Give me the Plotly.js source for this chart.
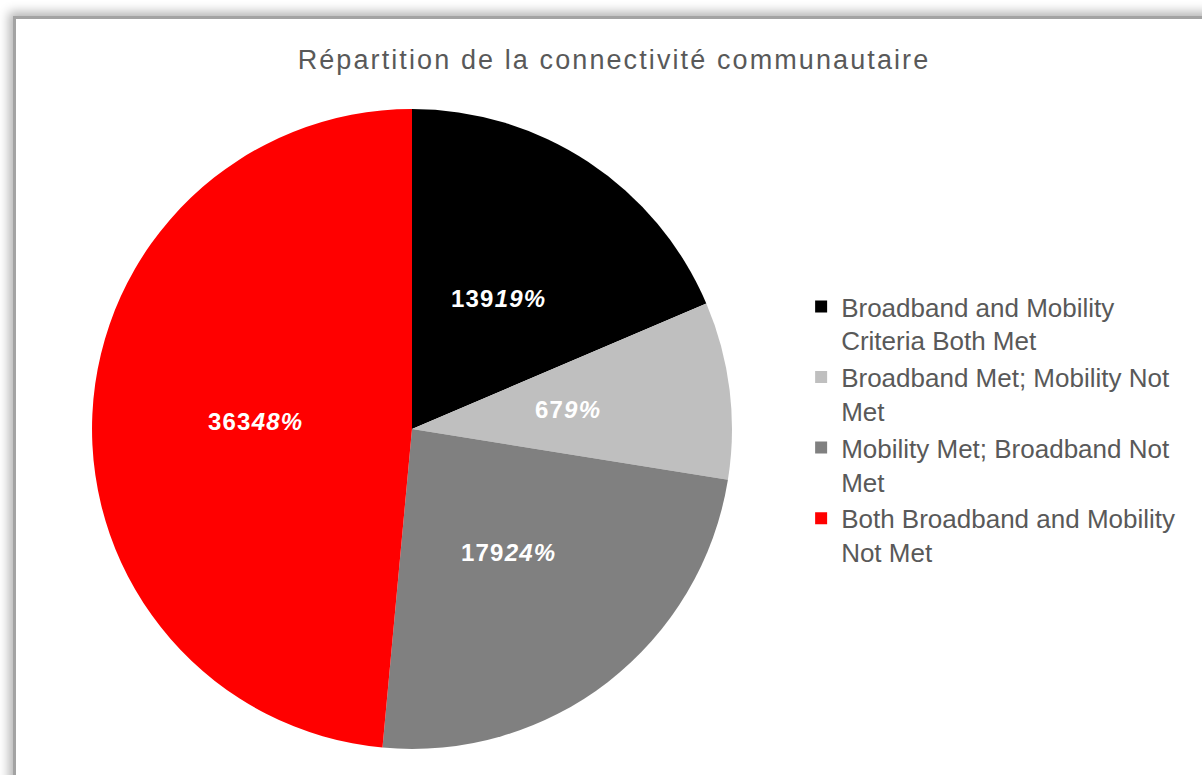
<!DOCTYPE html>
<html>
<head>
<meta charset="utf-8">
<script src="https://cdn.plot.ly/plotly-3.0.1.min.js"></script>
<style>
  html, body { margin: 0; padding: 0; background: #ffffff; overflow: hidden; width: 1202px; height: 775px; }
  #frame {
    position: absolute; left: 13px; top: 16px; width: 1220px; height: 790px;
    border: 3px solid #a3a3a3;
    box-shadow: 0 0 10px 4px rgba(0,0,0,0.30);
    background: #ffffff;
  }
  #chart { position: absolute; left: 16px; top: 19px; width: 1186px; height: 756px; }
  .gtitle { letter-spacing: 2.1px; }
  .annotation-text { letter-spacing: 1.2px; }
</style>
</head>
<body>
<div id="frame"></div>
<div id="chart"></div>
<script>
  // Data
  var categories = [
    'Broadband and Mobility<br>Criteria Both Met',
    'Broadband Met; Mobility Not<br>Met',
    'Mobility Met; Broadband Not<br>Met',
    'Both Broadband and Mobility<br>Not Met'
  ];
  var counts = [139, 67, 179, 363];
  var percentLabels = ['19%', '9%', '24%', '48%'];
  var sliceColors = ['#000000', '#bfbfbf', '#808080', '#ff0000'];
  var chartTitle = 'Répartition de la connectivité communautaire';

  var W = 1186, H = 756;
  var pieDomain = { x: [0.0641, 0.6037], y: [0.0344, 0.881] };

  var trace = {
    type: 'pie',
    labels: categories,
    values: counts,
    sort: false,
    direction: 'clockwise',
    rotation: 0,
    marker: { colors: sliceColors, line: { width: 0 } },
    textinfo: 'none',
    hoverinfo: 'label+value',
    domain: pieDomain
  };

  // Data labels placed at half radius on each slice's mid-angle (derived from the values)
  var total = counts.reduce(function (a, b) { return a + b; }, 0);
  var cxPx = (pieDomain.x[0] + pieDomain.x[1]) / 2 * W;
  var cyPx = (pieDomain.y[0] + pieDomain.y[1]) / 2 * H;
  var rPx = Math.min((pieDomain.x[1] - pieDomain.x[0]) * W, (pieDomain.y[1] - pieDomain.y[0]) * H) / 2;
  var labelRadius = 0.49;
  var annotations = [];
  var cum = 0;
  for (var i = 0; i < counts.length; i++) {
    var mid = (cum + counts[i] / 2) / total * 2 * Math.PI;
    cum += counts[i];
    annotations.push({
      xref: 'paper', yref: 'paper',
      x: (cxPx + labelRadius * rPx * Math.sin(mid)) / W,
      y: (cyPx + labelRadius * rPx * Math.cos(mid)) / H,
      xanchor: 'center', yanchor: 'middle',
      showarrow: false,
      text: '<b>' + counts[i] + '</b><b><i>' + percentLabels[i] + '</i></b>',
      font: { family: 'Liberation Sans, Arial, sans-serif', size: 24, color: '#ffffff' }
    });
  }

  var layout = {
    width: W,
    height: H,
    margin: { l: 0, r: 0, t: 0, b: 0 },
    paper_bgcolor: 'rgba(0,0,0,0)',
    plot_bgcolor: 'rgba(0,0,0,0)',
    title: {
      text: chartTitle,
      x: 0.5042, xanchor: 'center',
      y: 0.9458, yanchor: 'middle',
      font: { family: 'Liberation Sans, Arial, sans-serif', size: 27, color: '#595959' }
    },
    showlegend: true,
    legend: {
      x: 0.662, xanchor: 'left',
      y: 0.457, yanchor: 'middle',
      valign: 'top',
      bgcolor: 'rgba(0,0,0,0)',
      font: { family: 'Liberation Sans, Arial, sans-serif', size: 26, color: '#595959' }
    },
    annotations: annotations
  };

  Plotly.newPlot('chart', [trace], layout, { displayModeBar: false, staticPlot: true });
</script>
</body>
</html>
